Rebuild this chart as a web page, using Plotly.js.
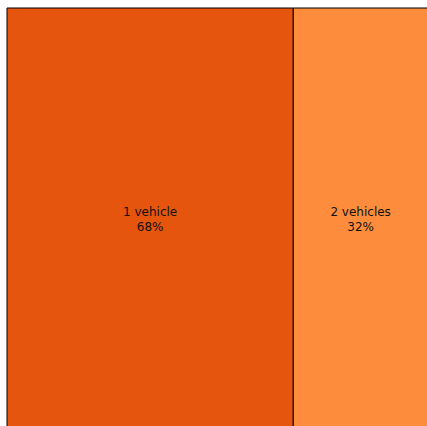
<!DOCTYPE html>
<html>
<head>
<meta charset="utf-8">
<script src="https://cdn.plot.ly/plotly-3.0.1.min.js"></script>
<style>
html, body { margin: 0; padding: 0; overflow: hidden; background: #fff; }
#chart { width: 428px; height: 431px; }
</style>
</head>
<body>
<div id="chart"></div>
<script>
const labels = ["1 vehicle", "2 vehicles"];
const values = [68, 32];
const colors = ["#E6550D", "#FD8D3C"];

const trace = {
  type: "treemap",
  labels: labels,
  parents: labels.map(() => ""),
  values: values,
  sort: false,
  texttemplate: "%{label}<br>%{percentRoot:.0%}",
  textposition: "middle center",
  textfont: { family: "DejaVu Sans, sans-serif", size: 12, color: "#111" },
  hoverinfo: "none",
  marker: { colors: colors, line: { color: "#000", width: 1 }, pad: { t: 0, l: 0, r: 0, b: 0 } },
  pathbar: { visible: false },
  root: { color: "rgba(0,0,0,0)" },
  tiling: { packing: "dice", pad: 0 }
};

Plotly.newPlot("chart", [trace], {
  width: 428, height: 431,
  margin: { l: 7, r: 0, t: 8, b: 0 },
  paper_bgcolor: "#fff",
  showlegend: false
}, { displayModeBar: false, staticPlot: true });
</script>
</body>
</html>
